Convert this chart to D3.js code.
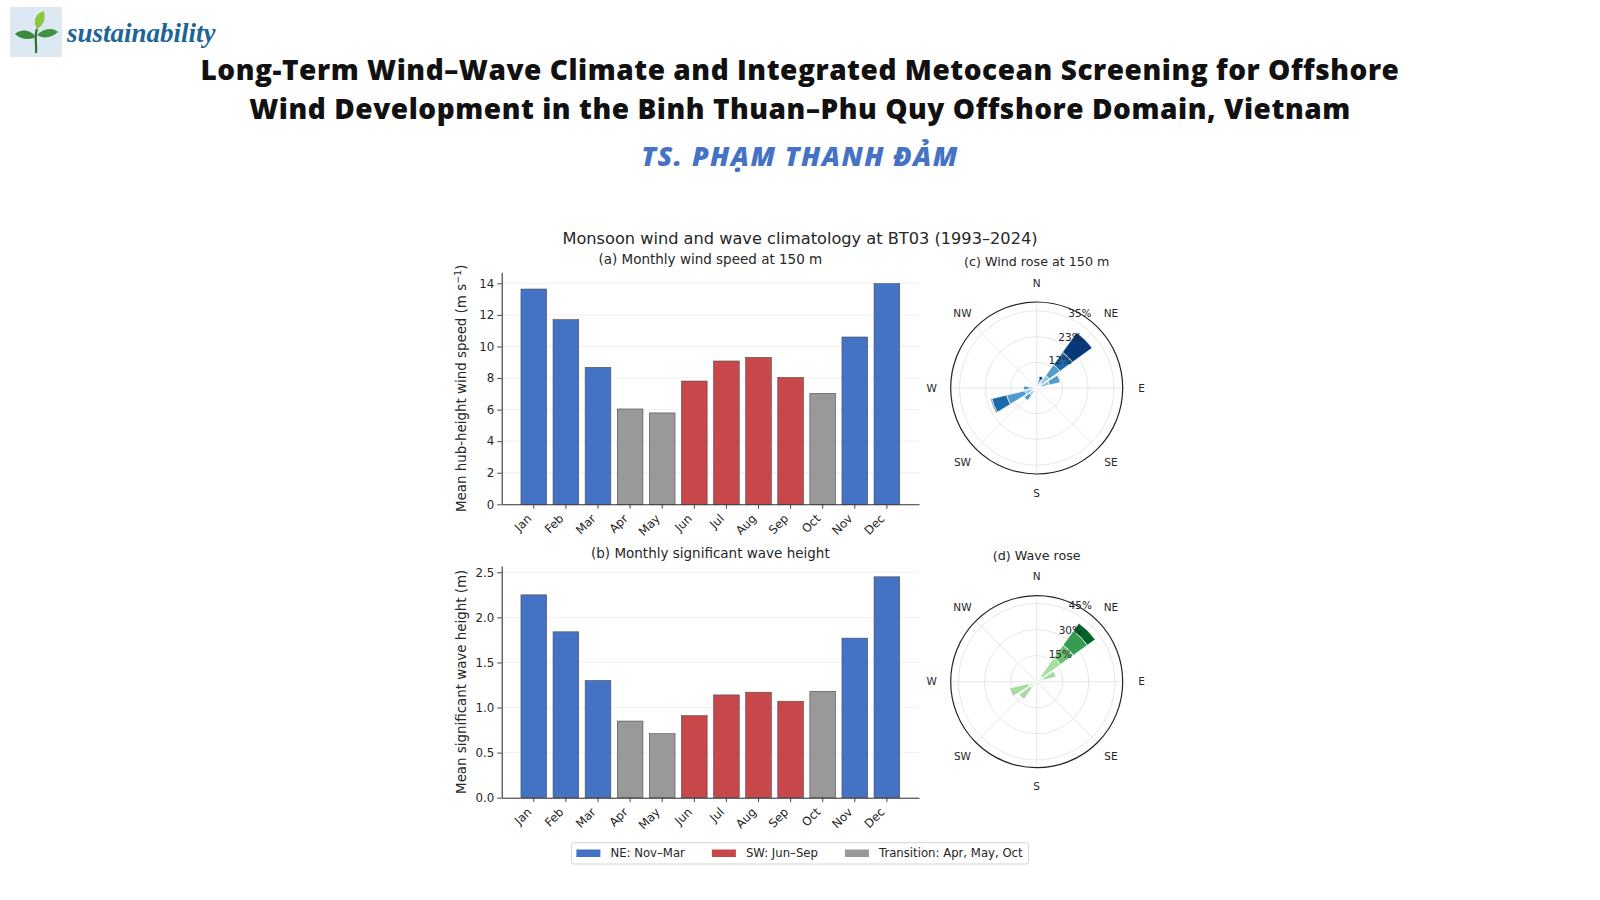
<!DOCTYPE html>
<html>
<head>
<meta charset="utf-8">
<script src="https://cdn.jsdelivr.net/npm/d3@7"></script>
<style>
  body { margin: 0; background: #fff; }
  svg { display: block; }
</style>
</head>
<body>
<svg id="fig" width="1600" height="900"></svg>
<script>
// ---- data ----
var months = ["Jan", "Feb", "Mar", "Apr", "May", "Jun", "Jul", "Aug", "Sep", "Oct", "Nov", "Dec"];
var windSpeed = [13.64, 11.70, 8.68, 6.04, 5.79, 7.81, 9.08, 9.31, 8.04, 7.03, 10.60, 13.98];
var waveHeight = [2.25, 1.84, 1.30, 0.85, 0.71, 0.91, 1.14, 1.17, 1.07, 1.18, 1.77, 2.45];
var monthSeason = ["NE", "NE", "NE", "TR", "TR", "SW", "SW", "SW", "SW", "TR", "NE", "NE"];

var seasonKeys = ["NE", "SW", "TR"];
var seasonLabels = ["NE: Nov–Mar", "SW: Jun–Sep", "Transition: Apr, May, Oct"];

var windTicks = [0, 2, 4, 6, 8, 10, 12, 14];
var waveTicks = [0, 0.5, 1.0, 1.5, 2.0, 2.5];

// wind rose: bearing (deg) and frequency (%) per speed bin, stacked outward
var windRoseDir = [22.5, 45, 67.5, 225, 247.5, 270];
var windRoseFreq = [
    [1, 1, 1, 1, 1.5],
    [3, 4, 6, 7, 11],
    [2, 4, 5, 0, 0],
    [2, 2, 3, 0, 0],
    [2, 3.5, 8.5, 7, 0.5],
    [1.5, 2, 2.5, 0, 0]
];
var windRings = [11.7, 23.3, 35];
var windRingLabels = ["12%", "23%", "35%"];
var windRmax = 39;

// wave rose: bearing (deg) and frequency (%) per Hs bin
var waveRoseDir = [45, 67.5, 225, 247.5];
var waveRoseFreq = [
    [4, 13, 9, 10, 5.5],
    [4, 7.5, 0, 0, 0],
    [4.5, 8, 0, 0, 0],
    [5, 11, 0, 0, 0]
];
var waveRings = [15, 30, 45];
var waveRingLabels = ["15%", "30%", "45%"];
var waveRmax = 49.5;

var compass = ["N", "NE", "E", "SE", "S", "SW", "W", "NW"];

// ---- styling ----
var seasonColor = { NE: "#4472c4", SW: "#c8474b", TR: "#999999" };
var windBinColor = [0.22, 0.4, 0.58, 0.78, 0.97].map(d3.interpolateBlues);
var waveBinColor = [0.18, 0.35, 0.52, 0.68, 0.9].map(d3.interpolateGreens);
var chartFont = "DejaVu Sans, sans-serif";
var ink = "#262626";

var svg = d3.select("#fig");
svg.append("rect").attr("width", 1600).attr("height", 900).attr("fill", "#fff");

// ---- header ----
var logo = svg.append("g").attr("transform", "translate(10,7)");
logo.append("rect").attr("width", 52).attr("height", 50).attr("fill", "#dce9f3");
logo.append("path").attr("d", "M26,46 C27,38 24,30 27,22").attr("stroke", "#2f6e35").attr("stroke-width", 2.2).attr("fill", "none");
logo.append("path").attr("d", "M27,22 C22,14 26,6 34,4 C36,12 33,19 27,22 Z").attr("fill", "#8cc63f");
logo.append("path").attr("d", "M26,30 C20,22 10,22 5,27 C11,33 20,33 26,30 Z").attr("fill", "#3a8a3f");
logo.append("path").attr("d", "M27,28 C33,21 43,20 48,25 C42,31 33,32 27,28 Z").attr("fill", "#3f9244");
svg.append("text").attr("x", 67).attr("y", 42)
    .attr("font-family", "Liberation Serif, serif").attr("font-style", "italic").attr("font-weight", "bold")
    .attr("font-size", 27).attr("fill", "#1c6597").text("sustainability");

var titleLines = ["Long-Term Wind–Wave Climate and Integrated Metocean Screening for Offshore",
                  "Wind Development in the Binh Thuan–Phu Quy Offshore Domain, Vietnam"];
svg.selectAll(".ttl").data(titleLines).enter().append("text")
    .attr("class", "ttl")
    .attr("x", 800).attr("y", function(d, i) { return 80 + i * 39; })
    .attr("text-anchor", "middle")
    .attr("font-family", "Open Sans, sans-serif").attr("font-weight", 800)
    .attr("font-size", 28).attr("letter-spacing", 0.55).attr("fill", "#111")
    .text(function(d) { return d; });
svg.append("text").attr("x", 800).attr("y", 166).attr("text-anchor", "middle")
    .attr("font-family", "Open Sans, sans-serif").attr("font-weight", 800).attr("font-style", "italic")
    .attr("font-size", 27).attr("letter-spacing", 1.4).attr("fill", "#4472c4").text("TS. PHẠM THANH ĐẢM");

// figure title
svg.append("text").attr("x", 800).attr("y", 243.5).attr("text-anchor", "middle")
    .attr("font-family", chartFont).attr("font-size", 16.2).attr("fill", ink)
    .text("Monsoon wind and wave climatology at BT03 (1993–2024)");

// ---- bar panels ----
var x = d3.scaleBand().domain(months).range([501.7, 919]).paddingInner(0.2).paddingOuter(0.6);

function barPanel(values, top, bottom, ymax, ticks, fmt, title, ylabel) {
    var y = d3.scaleLinear().domain([0, ymax]).range([bottom, top]);
    var g = svg.append("g");

    g.selectAll(".grid").data(ticks).enter().append("line")
        .attr("x1", x.range()[0]).attr("x2", x.range()[1])
        .attr("y1", function(d) { return y(d); }).attr("y2", function(d) { return y(d); })
        .attr("stroke", "#ececec").attr("stroke-width", 0.8);

    g.selectAll(".bar").data(values).enter().append("rect")
        .attr("x", function(d, i) { return x(months[i]); })
        .attr("y", function(d) { return y(d); })
        .attr("width", x.bandwidth())
        .attr("height", function(d) { return bottom - y(d); })
        .attr("fill", function(d, i) { return seasonColor[monthSeason[i]]; })
        .attr("stroke", "#4a4a4a").attr("stroke-width", 0.6);

    var ya = g.append("g").attr("transform", "translate(" + x.range()[0] + ",0)")
        .call(d3.axisLeft(y).tickValues(ticks).tickFormat(d3.format(fmt)).tickSize(4.5).tickSizeOuter(0).tickPadding(3));
    var xa = g.append("g").attr("transform", "translate(0," + bottom + ")")
        .call(d3.axisBottom(x).tickSize(4.5).tickSizeOuter(0));
    [ya, xa].forEach(function(a) {
        a.select(".domain").attr("stroke", "#333").attr("stroke-width", 1.1);
        a.selectAll(".tick line").attr("stroke", "#333").attr("stroke-width", 0.9);
        a.selectAll("text").attr("font-family", chartFont).attr("font-size", 11.8).attr("fill", ink);
    });
    xa.selectAll(".tick text")
        .attr("text-anchor", "end")
        .attr("y", 0).attr("dy", 0)
        .attr("transform", "translate(-1.5,15) rotate(-45)");

    g.append("text").attr("x", (x.range()[0] + x.range()[1]) / 2).attr("y", top - 8)
        .attr("text-anchor", "middle").attr("font-family", chartFont).attr("font-size", 13.5).attr("fill", ink)
        .text(title);

    var yl = g.append("text")
        .attr("transform", "translate(466," + (top + bottom) / 2 + ") rotate(-90)")
        .attr("text-anchor", "middle").attr("font-family", chartFont).attr("font-size", 13.4).attr("fill", ink);
    return yl;
}

var yl1 = barPanel(windSpeed, 272.3, 504.3, 14.7, windTicks, "d",
    "(a) Monthly wind speed at 150 m");
yl1.append("tspan").text("Mean hub-height wind speed (m s");
yl1.append("tspan").attr("dy", -5).attr("font-size", 9.5).text("−1");
yl1.append("tspan").attr("dy", 5).text(")");

var yl2 = barPanel(waveHeight, 566, 797.7, 2.57, waveTicks, ".1f",
    "(b) Monthly significant wave height");
yl2.text("Mean significant wave height (m)");

// ---- rose panels ----
function rosePanel(cx, cy, rmax, dirs, freqs, colors, rings, ringLabels, title) {
    var R = 86;
    var r = d3.scaleLinear().domain([0, rmax]).range([0, R]);
    var g = svg.append("g").attr("transform", "translate(" + cx + "," + cy + ")");
    var rad = Math.PI / 180;

    g.selectAll(".ring").data(rings).enter().append("circle")
        .attr("r", function(d) { return r(d); })
        .attr("fill", "none").attr("stroke", "#e3e3e3").attr("stroke-width", 0.9);
    g.selectAll(".spoke").data(compass).enter().append("line")
        .attr("x2", function(d, i) { return R * Math.sin(i * 45 * rad); })
        .attr("y2", function(d, i) { return -R * Math.cos(i * 45 * rad); })
        .attr("stroke", "#e3e3e3").attr("stroke-width", 0.9);

    var segs = [];
    dirs.forEach(function(dir, k) {
        var acc = 0;
        freqs[k].forEach(function(v, b) {
            if (v > 0) segs.push({ dir: dir, r0: acc, r1: acc + v, bin: b });
            acc += v;
        });
    });
    var halfW = 22.5 * 0.82 / 2;
    var arc = d3.arc()
        .innerRadius(function(d) { return r(d.r0); })
        .outerRadius(function(d) { return r(d.r1); })
        .startAngle(function(d) { return (d.dir - halfW) * rad; })
        .endAngle(function(d) { return (d.dir + halfW) * rad; });
    g.selectAll(".seg").data(segs).enter().append("path")
        .attr("d", arc)
        .attr("fill", function(d) { return colors[d.bin]; })
        .attr("stroke", "#fff").attr("stroke-width", 0.7);

    g.append("circle").attr("r", R).attr("fill", "none").attr("stroke", "#222").attr("stroke-width", 1.2);

    g.selectAll(".rl").data(rings).enter().append("text")
        .attr("x", function(d) { return r(d) * Math.sin(22.5 * rad) + 2; })
        .attr("y", function(d) { return -r(d) * Math.cos(22.5 * rad); })
        .attr("font-family", chartFont).attr("font-size", 10.5).attr("fill", ink)
        .text(function(d, i) { return ringLabels[i]; });

    g.selectAll(".cl").data(compass).enter().append("text")
        .attr("x", function(d, i) { return 105 * Math.sin(i * 45 * rad); })
        .attr("y", function(d, i) { return -105 * Math.cos(i * 45 * rad); })
        .attr("dy", "0.35em").attr("text-anchor", "middle")
        .attr("font-family", chartFont).attr("font-size", 10.5).attr("fill", ink)
        .text(function(d) { return d; });

    g.append("text").attr("y", -122).attr("text-anchor", "middle")
        .attr("font-family", chartFont).attr("font-size", 12.7).attr("fill", ink).text(title);
}

rosePanel(1036.7, 388, windRmax, windRoseDir, windRoseFreq, windBinColor, windRings, windRingLabels,
    "(c) Wind rose at 150 m");
rosePanel(1036.7, 681.7, waveRmax, waveRoseDir, waveRoseFreq, waveBinColor, waveRings, waveRingLabels,
    "(d) Wave rose");

// ---- legend ----
var leg = svg.append("g");
var box = leg.append("rect").attr("y", 842.7).attr("height", 21.3).attr("rx", 2.5)
    .attr("fill", "#fff").attr("stroke", "#d4d4d4").attr("stroke-width", 1);
var lx = 5;
seasonKeys.forEach(function(k, i) {
    leg.append("rect").attr("x", lx).attr("y", 849.5).attr("width", 24).attr("height", 7.5)
        .attr("fill", seasonColor[k]);
    var t = leg.append("text").attr("x", lx + 34).attr("y", 857.3)
        .attr("font-family", chartFont).attr("font-size", 11.7).attr("fill", ink).text(seasonLabels[i]);
    lx += 34 + t.node().getComputedTextLength() + 27;
});
var legW = lx - 27 + 6;
box.attr("width", legW);
leg.attr("transform", "translate(" + (800 - legW / 2) + ",0)");
</script>
</body>
</html>
